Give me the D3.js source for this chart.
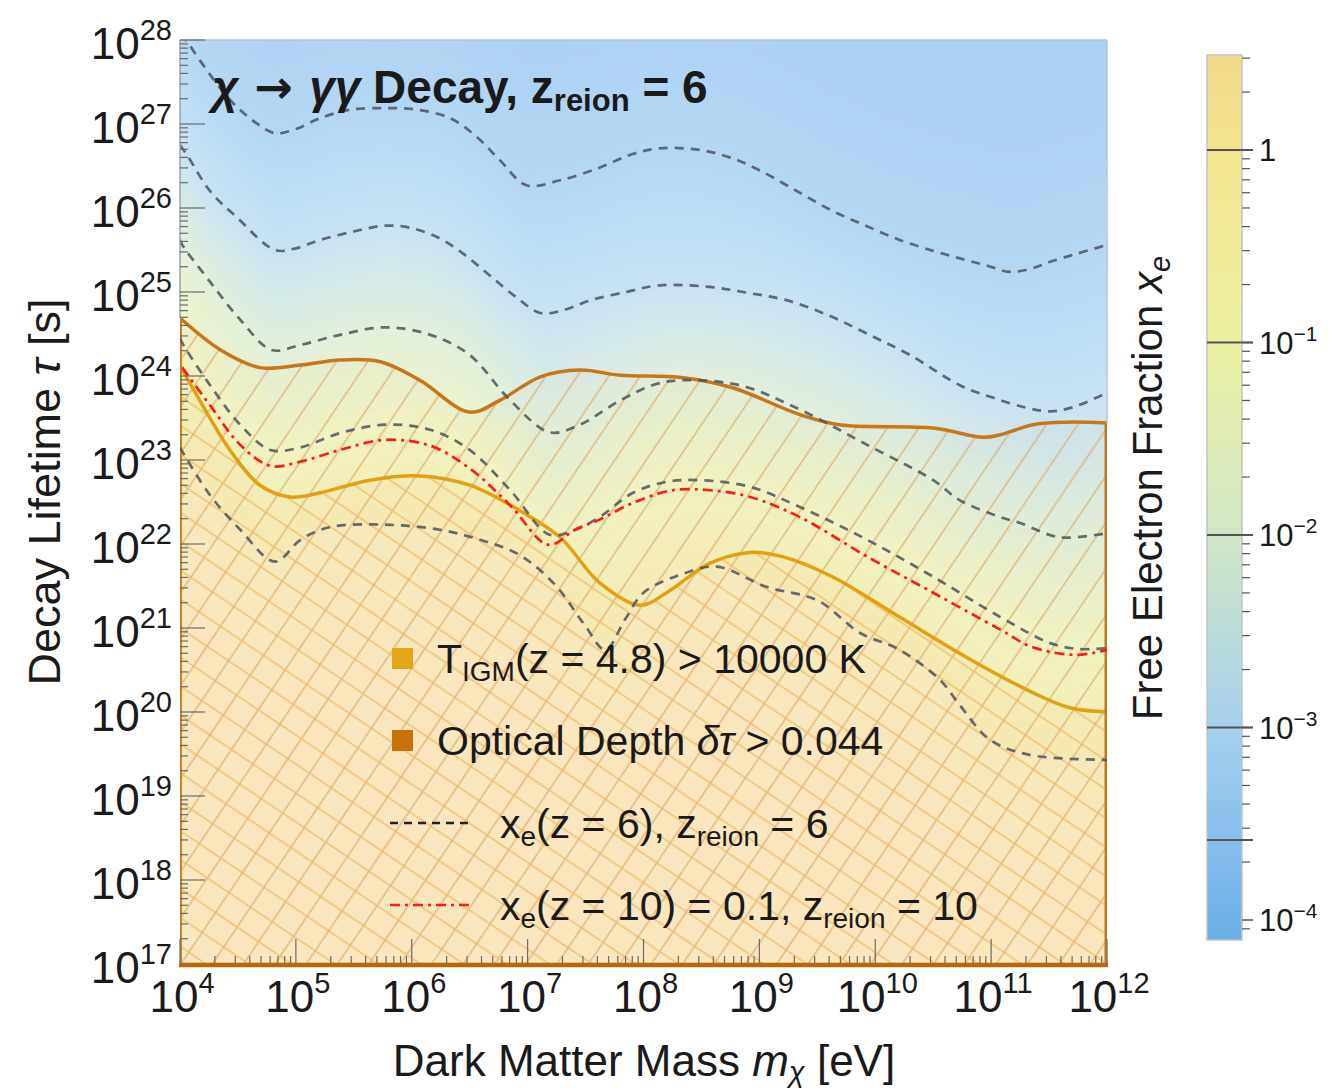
<!DOCTYPE html>
<html><head><meta charset="utf-8">
<script src="https://cdn.jsdelivr.net/npm/d3@7"></script>
<style>
body{margin:0;background:#fff;}
text{font-family:"Liberation Sans",Arial,sans-serif;fill:#1a1a1a;}
</style>
</head><body>
<svg id="chart" width="1338" height="1090"></svg>
<script>
// ---------------- DATA (log10 values) ----------------
const massTickExps = [4,5,6,7,8,9,10,11,12];
const tauTickExps = [17,18,19,20,21,22,23,24,25,26,27,28];
const xeTickExps = [0,-1,-2,-3,-4];
const contourLevels = [-3.585,-3,-2,-1,0]; // log10 xe of dashed contours (top -> bottom)

// dashed contours of xe(z=6): [log10 m, log10 tau]
const contourA = [[4.00,28.06],[4.06,27.98],[4.17,27.76],[4.43,27.29],[4.65,27.02],[4.82,26.89],[5.0,26.94],[5.21,27.07],[5.47,27.17],[5.77,27.19],[6.05,27.17],[6.33,27.07],[6.55,26.86],[6.76,26.57],[6.99,26.27],[7.28,26.33],[7.62,26.48],[7.9,26.64],[8.14,26.71],[8.49,26.69],[8.75,26.6],[9.0,26.45],[9.3,26.22],[9.61,25.98],[9.9,25.8],[10.21,25.62],[10.5,25.49],[10.73,25.40],[10.95,25.32],[11.16,25.24],[11.35,25.28],[11.51,25.36],[11.75,25.46],[12.0,25.56]];
const contourB = [[4.00,26.75],[4.07,26.61],[4.26,26.2],[4.49,25.89],[4.82,25.50],[5.0,25.52],[5.21,25.62],[5.5,25.72],[5.77,25.79],[6.0,25.76],[6.24,25.64],[6.45,25.45],[6.67,25.20],[6.9,24.94],[7.11,24.75],[7.3,24.78],[7.54,24.90],[7.85,25.0],[8.14,25.08],[8.57,25.06],[8.9,24.99],[9.24,24.90],[9.6,24.72],[9.95,24.49],[10.3,24.25],[10.73,23.89],[11.02,23.74],[11.31,23.62],[11.51,23.58],[11.71,23.63],[12.0,23.80]];
const contourC = [[4.00,25.62],[4.02,25.56],[4.26,25.12],[4.52,24.67],[4.79,24.31],[5.04,24.37],[5.38,24.49],[5.77,24.58],[6.16,24.49],[6.50,24.25],[6.85,23.71],[7.19,23.33],[7.45,23.42],[7.80,23.71],[8.1,23.9],[8.34,23.95],[8.83,23.89],[9.35,23.60],[9.93,23.18],[10.50,22.76],[10.73,22.52],[11.08,22.32],[11.25,22.25],[11.59,22.08],[12.0,22.13]];
const contourD = [[4.00,24.45],[4.02,24.39],[4.26,23.89],[4.52,23.42],[4.78,23.12],[5.04,23.15],[5.38,23.32],[5.77,23.42],[6.16,23.36],[6.50,23.12],[6.85,22.64],[7.19,22.11],[7.41,22.17],[7.62,22.32],[7.91,22.61],[8.2,22.74],[8.49,22.76],[8.92,22.68],[9.35,22.44],[9.93,22.05],[10.50,21.61],[11.08,21.13],[11.51,20.82],[11.75,20.75],[12.0,20.76]];
const contourE = [[4.00,23.15],[4.02,23.10],[4.26,22.58],[4.52,22.17],[4.82,21.79],[5.04,22.05],[5.29,22.20],[5.77,22.23],[6.24,22.17],[6.59,22.05],[6.93,21.87],[7.24,21.51],[7.49,21.04],[7.67,20.74],[7.84,21.10],[8.0,21.42],[8.31,21.63],[8.63,21.73],[9.06,21.49],[9.50,21.33],[9.87,20.94],[10.21,20.74],[10.56,20.38],[10.73,20.08],[10.99,19.67],[11.33,19.49],[12.0,19.43]];

// red dash-dot: xe(z=10)=0.1, zreion=10
const xeZ10 = [[4.02,24.10],[4.26,23.65],[4.52,23.18],[4.78,22.93],[5.04,22.98],[5.38,23.12],[5.77,23.24],[6.16,23.17],[6.50,22.90],[6.85,22.46],[7.18,21.99],[7.41,22.17],[7.62,22.29],[7.91,22.49],[8.25,22.64],[8.57,22.64],[8.92,22.56],[9.35,22.32],[9.93,21.85],[10.50,21.42],[11.08,20.98],[11.36,20.77],[11.74,20.68],[12.0,20.74]];

// constraint boundaries
const opticalDepth = [[4.0,24.69],[4.35,24.31],[4.69,24.10],[5.04,24.13],[5.38,24.19],[5.73,24.17],[6.07,23.95],[6.50,23.57],[6.76,23.71],[7.11,23.99],[7.45,24.07],[7.80,24.01],[8.34,23.98],[8.77,23.86],[9.35,23.54],[9.69,23.42],[10.50,23.38],[10.93,23.27],[11.08,23.30],[11.36,23.42],[11.65,23.45],[12.0,23.44]];
const tigm = [[4.0,24.13],[4.17,23.71],[4.43,23.12],[4.69,22.70],[4.95,22.56],[5.21,22.61],[5.64,22.76],[6.07,22.81],[6.50,22.70],[6.93,22.40],[7.28,22.08],[7.62,21.54],[7.97,21.27],[8.20,21.42],[8.57,21.77],[8.92,21.90],[9.20,21.85],[9.63,21.61],[10.21,21.13],[10.79,20.65],[11.36,20.23],[11.68,20.05],[12.0,20.0]];

// colour bar (log10 xe -> colour)
const cbStops = [-4.1,-3.6,-3,-2,-1,0,0.5];
const cbColors = ['#6aaee8','#86beec','#a6d1ec','#d1e6c6','#ebf0a0','#f2e58e','#efd98a'];

// ---------------- LAYOUT ----------------
const svg = d3.select('#chart');
const L=180, R=1107, T=40, B=964;
const x = d3.scaleLog().domain([1e4,1e12]).range([L,R]);
const y = d3.scaleLog().domain([1e17,1e28]).range([B,T]);
const X = d=>x(Math.pow(10,d[0])), Y = d=>y(Math.pow(10,d[1]));
const cbTop=55, cbBot=940, cbL=1207, cbR=1242;
const cbY = d3.scaleLinear().domain([0,-4]).range([150,920]);
const cbScale = d3.scaleLinear().domain(cbStops).range(cbColors).clamp(true);

const defs = svg.append('defs');
defs.append('clipPath').attr('id','plotClip').append('rect').attr('x',L).attr('y',T).attr('width',R-L).attr('height',B-T);

// ---------------- FIELD ----------------
function interp(curve, lm){
  if(lm<=curve[0][0]) return curve[0][1];
  for(let i=1;i<curve.length;i++){
    if(lm<=curve[i][0]){const a=curve[i-1],b=curve[i];return a[1]+(b[1]-a[1])*(lm-a[0])/(b[0]-a[0]);}
  }
  return curve[curve.length-1][1];
}
const curves=[contourA,contourB,contourC,contourD,contourE];
const W=R-L, H=B-T;
const cv=document.createElement('canvas'); cv.width=W; cv.height=H;
const ctx=cv.getContext('2d'); const img=ctx.createImageData(W,H);
const warm=d3.scaleLinear().domain([0,0.2]).range(['#f8f0c4','#fbedc8']).clamp(true);
const fieldColor = l=>d3.rgb(l>0?warm(l):d3.interpolateRgb(cbScale(l),'#ffffff')(0.38));
const lut=[]; for(let i=0;i<=500;i++){lut.push(fieldColor(-4.1+i*(4.6/500)));}
for(let px=0;px<W;px++){
  const lm=Math.log10(x.invert(L+px+0.5));
  const c=curves.map(cu=>interp(cu,lm));
  for(let py=0;py<H;py++){
    const lt=Math.log10(y.invert(T+py+0.5));
    let l;
    if(lt>=c[0]) l=contourLevels[0]-Math.min(0.25,(lt-c[0])*0.15);
    else if(lt<=c[4]) l=Math.min(0.2,(c[4]-lt)*0.1);
    else{
      for(let i=0;i<4;i++){ if(lt<=c[i]&&lt>=c[i+1]){ l=contourLevels[i]+(contourLevels[i+1]-contourLevels[i])*(c[i]-lt)/(c[i]-c[i+1]); break;} }
    }
    const k=Math.max(0,Math.min(500,Math.round((l+4.1)/4.6*500)));
    const col=lut[k]; const o=(py*W+px)*4;
    img.data[o]=col.r; img.data[o+1]=col.g; img.data[o+2]=col.b; img.data[o+3]=255;
  }
}
ctx.putImageData(img,0,0);
svg.append('image').attr('x',L).attr('y',T).attr('width',W).attr('height',H).attr('href',cv.toDataURL());

// ---------------- REGIONS ----------------
function hatch(id,angle,color,sp,w){
  const p=defs.append('pattern').attr('id',id).attr('patternUnits','userSpaceOnUse')
   .attr('width',sp).attr('height',sp).attr('patternTransform',`rotate(${angle})`);
  p.append('line').attr('x1',-2).attr('x2',sp+2).attr('y1',sp/2).attr('y2',sp/2)
   .attr('stroke',color).attr('stroke-width',w);
}
hatch('hatchOD',-56,'#d9a868',26,1.5);
hatch('hatchT',34,'#eeb65c',24,1.6);
const plot=svg.append('g').attr('clip-path','url(#plotClip)');
const crv=d3.curveCatmullRom.alpha(0.5);
const area=d3.area().x(X).y0(B).y1(Y).curve(crv);
const line=d3.line().x(X).y(Y).curve(crv);
plot.append('path').attr('d',area(opticalDepth)).attr('fill','#e8a040').attr('fill-opacity',0.03);
plot.append('path').attr('d',area(tigm)).attr('fill','#f5b040').attr('fill-opacity',0.04);
plot.append('path').attr('d',area(opticalDepth)).attr('fill','url(#hatchOD)').attr('opacity',0.75);
plot.append('path').attr('d',area(tigm)).attr('fill','url(#hatchT)').attr('opacity',0.75);
plot.append('path').attr('d',line(opticalDepth)).attr('fill','none').attr('stroke','#c8761a').attr('stroke-width',3.5);
plot.append('path').attr('d',line(tigm)).attr('fill','none').attr('stroke','#e2a012').attr('stroke-width',3.5);
// region edges
plot.append('line').attr('x1',R-1).attr('x2',R-1).attr('y1',Y(opticalDepth[opticalDepth.length-1])).attr('y2',B).attr('stroke','#c8761a').attr('stroke-width',3);
plot.append('line').attr('x1',L+1).attr('x2',L+1).attr('y1',Y(opticalDepth[0])).attr('y2',B).attr('stroke','#c8861a').attr('stroke-width',2);

curves.forEach(cu=>{
  plot.append('path').attr('d',line(cu)).attr('fill','none').attr('stroke','#4e535c')
   .attr('stroke-width',2.7).attr('stroke-dasharray','9,7').attr('opacity',0.85);
});
plot.append('path').attr('d',line(xeZ10)).attr('fill','none').attr('stroke','#ff1a1a')
  .attr('stroke-width',2.7).attr('stroke-dasharray','10,5,3,5');

// ---------------- FRAME & TICKS ----------------
svg.append('line').attr('x1',L).attr('x2',R).attr('y1',T).attr('y2',T).attr('stroke','#b9c2cc').attr('stroke-width',1.5);
svg.append('line').attr('x1',R).attr('x2',R).attr('y1',T).attr('y2',Y(opticalDepth[opticalDepth.length-1])).attr('stroke','#b9c2cc').attr('stroke-width',1.5);
svg.append('line').attr('x1',L).attr('x2',L).attr('y1',T).attr('y2',Y(opticalDepth[0])).attr('stroke','#9aa4b0').attr('stroke-width',1.5);
const tk=svg.append('g').attr('stroke','#6a6a6a').attr('stroke-width',1.2);
tauTickExps.forEach(e=>{
  tk.append('line').attr('x1',L).attr('x2',L+25).attr('y1',y(10**e)).attr('y2',y(10**e));
  if(e<28) for(let k=2;k<=9;k++){const yy=y(k*10**e);tk.append('line').attr('x1',L).attr('x2',L+8).attr('y1',yy).attr('y2',yy);}
});
massTickExps.forEach(e=>{
  tk.append('line').attr('y1',B).attr('y2',B-25).attr('x1',x(10**e)).attr('x2',x(10**e));
  if(e<12) for(let k=2;k<=9;k++){const xx=x(k*10**e);tk.append('line').attr('y1',B).attr('y2',B-8).attr('x1',xx).attr('x2',xx);}
});
svg.append('line').attr('x1',L-1).attr('x2',R+1).attr('y1',B+1).attr('y2',B+1).attr('stroke','#b8680c').attr('stroke-width',4.5);

// tick labels
const yl=svg.append('g');
tauTickExps.forEach(e=>{
  const t=yl.append('text').attr('x',172).attr('y',y(10**e)+19).attr('text-anchor','end').attr('font-size',44);
  t.append('tspan').text('10');
  t.append('tspan').attr('dy',-19).attr('font-size',29).text(e);
});
massTickExps.forEach(e=>{
  const t=svg.append('text').attr('x',x(10**e)+2).attr('y',1012).attr('text-anchor','middle').attr('font-size',44);
  t.append('tspan').text('10');
  t.append('tspan').attr('dy',-19).attr('font-size',29).text(e);
});
// axis titles
const xt=svg.append('text').attr('x',644).attr('y',1076).attr('text-anchor','middle').attr('font-size',44);
xt.append('tspan').text('Dark Matter Mass ');
xt.append('tspan').attr('font-style','italic').text('m');
xt.append('tspan').attr('font-style','italic').attr('font-size',29).attr('dy',6).text('χ');
xt.append('tspan').attr('dy',-6).text(' [eV]');
const ytl=svg.append('text').attr('transform','translate(60,492) rotate(-90)').attr('text-anchor','middle').attr('font-size',45);
ytl.append('tspan').text('Decay Lifetime ');
ytl.append('tspan').attr('font-style','italic').text('τ');
ytl.append('tspan').text(' [s]');

// title
const tt=svg.append('text').attr('x',212).attr('y',103).attr('font-size',46).attr('font-weight','bold');
tt.append('tspan').attr('font-style','italic').text('χ');
tt.append('tspan').attr('font-family','DejaVu Sans').text(' → ');
tt.append('tspan').attr('font-style','italic').text('γγ');
tt.append('tspan').text(' Decay, z');
tt.append('tspan').attr('font-size',31).attr('dy',8).text('reion');
tt.append('tspan').attr('dy',-8).text(' = 6');

// ---------------- LEGEND ----------------
const lg=svg.append('g');
lg.append('rect').attr('x',392).attr('y',648).attr('width',21).attr('height',21).attr('fill','#e4a616');
lg.append('rect').attr('x',392).attr('y',730).attr('width',21).attr('height',21).attr('fill','#c8720c');
let t1=lg.append('text').attr('x',437).attr('y',673).attr('font-size',41);
t1.append('tspan').text('T');
t1.append('tspan').attr('font-size',28).attr('dy',8).text('IGM');
t1.append('tspan').attr('dy',-8).text('(z = 4.8) > 10000 K');
let t2=lg.append('text').attr('x',437).attr('y',755).attr('font-size',41);
t2.append('tspan').text('Optical Depth ');
t2.append('tspan').attr('font-style','italic').text('δτ');
t2.append('tspan').text(' > 0.044');
lg.append('line').attr('x1',390).attr('x2',472).attr('y1',823).attr('y2',823).attr('stroke','#222').attr('stroke-width',2.5).attr('stroke-dasharray','8,6');
lg.append('line').attr('x1',390).attr('x2',472).attr('y1',905).attr('y2',905).attr('stroke','#ff1a1a').attr('stroke-width',2.5).attr('stroke-dasharray','10,5,3,5');
let t3=lg.append('text').attr('x',500).attr('y',838).attr('font-size',41);
t3.append('tspan').text('x');
t3.append('tspan').attr('font-size',28).attr('dy',8).text('e');
t3.append('tspan').attr('dy',-8).text('(z = 6), z');
t3.append('tspan').attr('font-size',28).attr('dy',8).text('reion');
t3.append('tspan').attr('dy',-8).text(' = 6');
let t4=lg.append('text').attr('x',500).attr('y',920).attr('font-size',41);
t4.append('tspan').text('x');
t4.append('tspan').attr('font-size',28).attr('dy',8).text('e');
t4.append('tspan').attr('dy',-8).text('(z = 10) = 0.1, z');
t4.append('tspan').attr('font-size',28).attr('dy',8).text('reion');
t4.append('tspan').attr('dy',-8).text(' = 10');

// ---------------- COLOUR BAR ----------------
const grad=defs.append('linearGradient').attr('id','cbGrad').attr('x1',0).attr('x2',0).attr('y1',0).attr('y2',1);
for(let i=0;i<=40;i++){
  const yy=cbTop+(cbBot-cbTop)*i/40; const l=cbY.invert(yy);
  grad.append('stop').attr('offset',i/40).attr('stop-color',cbScale(l));
}
svg.append('rect').attr('x',cbL).attr('y',cbTop).attr('width',cbR-cbL).attr('height',cbBot-cbTop).attr('fill','url(#cbGrad)').attr('stroke','#c4c4c4').attr('stroke-width',1.5);
const cbt=svg.append('g').attr('stroke','#555');
contourLevels.forEach(l=>{cbt.append('line').attr('x1',cbL).attr('x2',cbR+11).attr('y1',cbY(l)).attr('y2',cbY(l)).attr('stroke-width',2);});
xeTickExps.forEach(e=>{cbt.append('line').attr('x1',cbR).attr('x2',cbR+11).attr('y1',cbY(e)).attr('y2',cbY(e)).attr('stroke-width',1.5);});
for(let d=-5;d<=0;d++){for(let k=2;k<=9;k++){const l=d+Math.log10(k); const yy=cbY(l); if(yy>cbTop+3&&yy<cbBot-3) cbt.append('line').attr('x1',cbR).attr('x2',cbR+8).attr('y1',yy).attr('y2',yy).attr('stroke-width',1.2);}}
xeTickExps.forEach(e=>{
  const t=svg.append('text').attr('x',1259).attr('y',cbY(e)+11).attr('font-size',31);
  if(e===0){t.text('1');}
  else{t.append('tspan').text('10');t.append('tspan').attr('dy',-13).attr('font-size',21).text('−'+(-e));}
});
const cbTitle=svg.append('text').attr('transform','translate(1162,488) rotate(-90)').attr('text-anchor','middle').attr('font-size',42);
cbTitle.append('tspan').text('Free Electron Fraction ');
cbTitle.append('tspan').attr('font-style','italic').text('x');
cbTitle.append('tspan').attr('font-style','italic').attr('font-size',29).attr('dy',8).text('e');
</script>
</body></html>
